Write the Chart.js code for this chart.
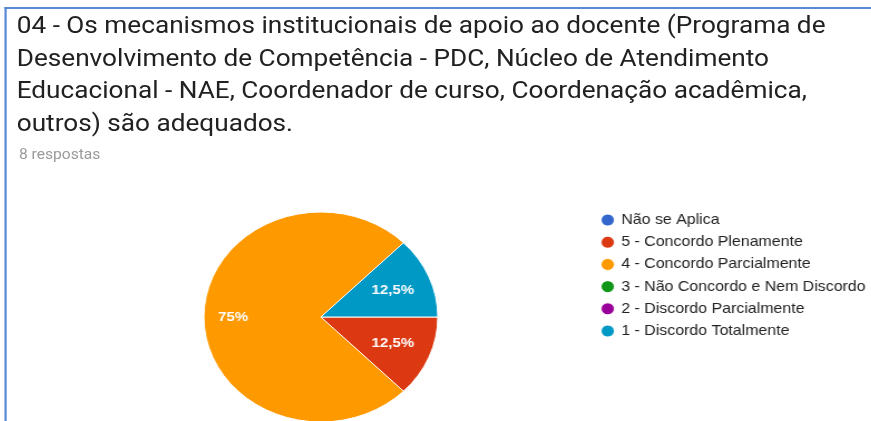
<!DOCTYPE html>
<html>
<head>
<meta charset="utf-8">
<script src="https://cdn.jsdelivr.net/npm/chart.js@4.4.0/dist/chart.umd.min.js"></script>
<style>
  html, body { margin: 0; padding: 0; background: #fff; width: 871px; height: 421px; overflow: hidden; }
  #stage { position: absolute; left: 0; top: 0; width: 782px; height: 421px; transform: scaleX(1.114); transform-origin: 0 0; overflow: hidden; }
  #frame { position: absolute; left: 4px; top: 7px; width: 820px; height: 440px; border-top: 2px solid #5a8ad4; border-left: 2px solid #5a8ad4; }
  #title { position: absolute; left: 15px; top: 9px; margin: 0; font: 400 23.5px/32.5px Roboto, sans-serif; color: #212121; white-space: nowrap; }
  #count { position: absolute; left: 17px; top: 146px; margin: 0; font: 400 14px/16px Roboto, sans-serif; color: #9a9a9a; }
  #wrap { position: absolute; left: 0; top: 195px; width: 787px; height: 236px; }
</style>
</head>
<body>
<div id="stage">
  <div id="frame"></div>
  <p id="title">04 - Os mecanismos institucionais de apoio ao docente (Programa de<br>Desenvolvimento de Competência - PDC, Núcleo de Atendimento<br>Educacional - NAE, Coordenador de curso, Coordenação acadêmica,<br>outros) são adequados.</p>
  <p id="count">8 respostas</p>
  <div id="wrap"><canvas id="pie" width="787" height="236"></canvas></div>
</div>
<script>
// Answer options, in form order
const categories = [
  'Não se Aplica',
  '5 - Concordo Plenamente',
  '4 - Concordo Parcialmente',
  '3 - Não Concordo e Nem Discordo',
  '2 - Discordo Parcialmente',
  '1 - Discordo Totalmente'
];
// Number of answers per option (8 in total)
const responses = [0, 1, 6, 0, 0, 1];
const sliceColors = ['#3366cc', '#dc3912', '#ff9900', '#109618', '#990099', '#0099c6'];

function formatShare(share) {
  return String(Math.round(share * 1000) / 10).replace('.', ',') + '%';
}

// Percent labels written inside each non-empty slice
const sliceLabels = {
  id: 'sliceLabels',
  afterDatasetsDraw(chart) {
    const ctx = chart.ctx;
    const meta = chart.getDatasetMeta(0);
    const data = chart.data.datasets[0].data;
    const total = data.reduce((a, b) => a + b, 0);
    meta.data.forEach((arc, i) => {
      const v = data[i];
      if (!v) return;
      const share = v / total;
      const p = arc.getProps(['x', 'y', 'startAngle', 'endAngle', 'outerRadius'], true);
      const mid = (p.startAngle + p.endAngle) / 2;
      const r = p.outerRadius * (share >= 0.5 ? 0.75 : 0.665);
      ctx.save();
      ctx.fillStyle = '#ffffff';
      ctx.font = 'bold 13.5px "Liberation Sans", Arial, sans-serif';
      ctx.textAlign = 'center';
      ctx.textBaseline = 'middle';
      ctx.fillText(formatShare(share), p.x + Math.cos(mid) * r, p.y + Math.sin(mid) * r);
      ctx.restore();
    });
  }
};

new Chart(document.getElementById('pie'), {
  type: 'pie',
  data: {
    labels: categories,
    datasets: [{
      data: responses,
      backgroundColor: sliceColors,
      borderColor: '#ffffff',
      borderWidth: 1,
      radius: 105
    }]
  },
  options: {
    responsive: false,
    animation: false,
    rotation: 90,
    layout: { padding: { left: 43.4, top: 10, right: 0, bottom: 2 } },
    plugins: {
      tooltip: { enabled: false },
      legend: {
        position: 'right',
        align: 'start',
        labels: {
          usePointStyle: true,
          pointStyle: 'circle',
          boxWidth: 10,
          boxHeight: 8.5,
          padding: 7.9,
          color: '#222222',
          font: { family: '"Liberation Sans", Arial, sans-serif', size: 14.3 }
        }
      }
    }
  },
  plugins: [sliceLabels]
});
</script>
</body>
</html>
